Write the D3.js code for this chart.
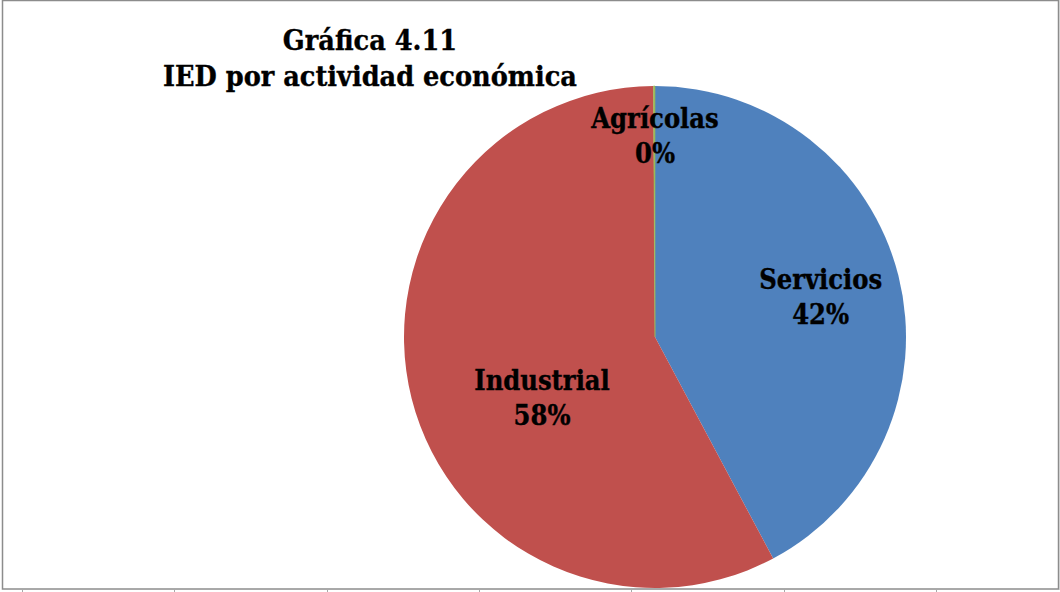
<!DOCTYPE html>
<html>
<head>
<meta charset="utf-8">
<script src="https://cdn.jsdelivr.net/npm/d3@7"></script>
<style>
  html, body { margin: 0; padding: 0; background: #fff; }
  svg { display: block; }
  text { font-family: "DejaVu Serif Condensed", "DejaVu Serif", serif; font-weight: bold; fill: #000; stroke: #000; stroke-width: 0.35px; }
</style>
</head>
<body>
<svg id="chart" width="1060" height="592"></svg>
<script>
// Foreign direct investment by economic activity (share, %)
const categories = ["Servicios", "Industrial", "Agrícolas"];
const values = [42.2, 57.7, 0.1];
const colors = ["#4F81BD", "#C0504D", "#9BBB59"];
const titleLines = ["Gráfica 4.11", "IED por actividad económica"];
// label anchor offsets from the pie centre, as fractions of the radius
const labelOffsets = [[0.66, -0.16], [-0.45, 0.245], [0, -0.80]];

const W = 1060, H = 592;
const svg = d3.select("#chart");

// outer frame
svg.append("rect")
  .attr("x", 2.5).attr("y", 0.5).attr("width", 1056).attr("height", 588.5)
  .attr("fill", "#fff").attr("stroke", "#8c8c8c").attr("stroke-width", 1.5);
svg.append("line").attr("x1", 1059.5).attr("x2", 1059.5).attr("y1", 0).attr("y2", 590)
  .attr("stroke", "#d0d0d0");
// sheet grid ticks below the frame
svg.selectAll("line.grid").data(d3.range(22, W, 152.3)).join("line")
  .attr("class", "grid")
  .attr("x1", d => Math.round(d) + 0.5).attr("x2", d => Math.round(d) + 0.5)
  .attr("y1", 589).attr("y2", 592)
  .attr("stroke", "#a8a8a8");

const cx = 655, cy = 337, r = 251;
const data = categories.map((c, i) => ({ name: c, value: values[i], color: colors[i], off: labelOffsets[i] }));

const pie = d3.pie().value(d => d.value).sort(null);
const arc = d3.arc().innerRadius(0).outerRadius(r);
const arcs = pie(data);

const g = svg.append("g").attr("transform", `translate(${cx},${cy})`);
g.selectAll("path").data(arcs).join("path")
  .attr("d", arc)
  .attr("fill", d => d.data.color)
  .attr("stroke", d => d.data.color)
  .attr("stroke-width", d => d.data.value < 1 ? 0.6 : 0);

const total = d3.sum(values);
const fmt = v => Math.round(v / total * 100) + "%";

const lbl = g.selectAll("g.lbl").data(arcs).join("g")
  .attr("class", "lbl")
  .attr("transform", d => `translate(${d.data.off[0] * r},${d.data.off[1] * r})`);
lbl.append("text").attr("text-anchor", "middle").attr("y", -8)
  .style("font-size", "27px").text(d => d.data.name);
lbl.append("text").attr("text-anchor", "middle").attr("y", 27)
  .style("font-size", "27px").text(d => fmt(d.data.value));

// title
svg.selectAll("text.title").data(titleLines).join("text")
  .attr("class", "title")
  .attr("x", 370).attr("y", (d, i) => 50 + i * 36)
  .attr("text-anchor", "middle")
  .style("font-size", "28.5px")
  .text(d => d);
</script>
</body>
</html>
